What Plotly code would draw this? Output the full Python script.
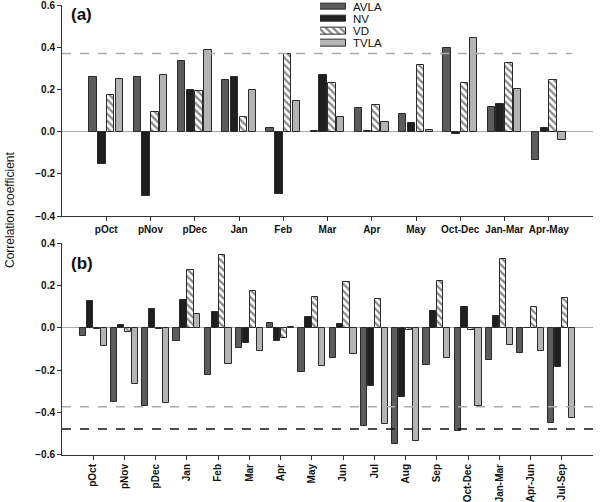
import plotly.graph_objects as go

cats_a = ["pOct", "pNov", "pDec", "Jan", "Feb", "Mar", "Apr", "May", "Oct-Dec", "Jan-Mar", "Apr-May"]
avla_a = [0.26, 0.26, 0.336, 0.246, 0.019, 0.005, 0.111, 0.082, 0.397, 0.119, -0.135]
nv_a = [-0.155, -0.304, 0.195, 0.26, -0.296, 0.267, 0.003, 0.042, -0.01, 0.133, 0.017]
vd_a = [0.174, 0.091, 0.192, 0.069, 0.37, 0.232, 0.127, 0.314, 0.231, 0.326, 0.243]
tvla_a = [0.248, 0.268, 0.386, 0.195, 0.146, 0.071, 0.045, 0.006, 0.445, 0.2, -0.041]

cats_b = ["pOct", "pNov", "pDec", "Jan", "Feb", "Mar", "Apr", "May", "Jun", "Jul", "Aug", "Sep",
          "Oct-Dec", "Jan-Mar", "Apr-Jun", "Jul-Sep"]
avla_b = [-0.039, -0.35, -0.367, -0.063, -0.223, -0.097, 0.022, -0.21, -0.141, -0.461, -0.547, -0.177,
          -0.489, -0.151, -0.119, -0.45]
nv_b = [0.127, 0.013, 0.091, 0.13, 0.075, -0.074, -0.063, 0.05, 0.019, -0.273, -0.326, 0.077,
        0.099, 0.056, 0.0, -0.187]
vd_b = [-0.005, -0.02, -0.005, 0.271, 0.345, 0.173, -0.047, 0.143, 0.218, 0.136, -0.01, 0.223,
        -0.01, 0.326, 0.1, 0.14]
tvla_b = [-0.086, -0.267, -0.353, 0.063, -0.169, -0.11, 0.003, -0.18, -0.125, -0.455, -0.532, -0.143,
          -0.369, -0.082, -0.11, -0.427]

sig_a = 0.37
sig_b1 = -0.372
sig_b2 = -0.478

names = ["AVLA", "NV", "VD", "TVLA"]
colors = ["#5c5c5c", "#1f1f1f", "#ffffff", "#b4b4b4"]

W, H = 600, 502
fig = go.Figure()


def marker_for(i):
    marker = dict(color=colors[i], line=dict(color="#2a2a2a", width=1))
    if names[i] == "VD":
        marker["pattern"] = dict(shape="\\", fgcolor="#111111", bgcolor="#ffffff", size=5, solidity=0.45)
    return marker


def add_panel(cats, series, xa, ya, width, pitch):
    start = -(3 * pitch + width) / 2
    for i, vals in enumerate(series):
        fig.add_trace(go.Bar(
            x=cats, y=vals, name=names[i], marker=marker_for(i), width=width,
            offset=start + i * pitch, xaxis=xa, yaxis=ya, showlegend=False))


add_panel(cats_a, [avla_a, nv_a, vd_a, tvla_a], "x", "y", 0.168, 0.2)
add_panel(cats_b, [avla_b, nv_b, vd_b, tvla_b], "x2", "y2", 0.2, 0.222)

# legend drawn as a tiny horizontal bar chart
for i, nm in enumerate(names):
    fig.add_trace(go.Bar(
        x=[1], y=[nm], orientation="h", marker=marker_for(i), width=0.55,
        xaxis="x3", yaxis="y3", showlegend=False, hoverinfo="skip"))

xdom = [62 / W, 593 / W]
ydom_a = [1 - 216 / H, 1 - 5 / H]
ydom_b = [1 - 455 / H, 1 - 243 / H]

tickfont = dict(family="Liberation Sans", size=10, color="#111", weight="bold")
axline = dict(showline=True, linecolor="#333", linewidth=1, ticks="outside", ticklen=4,
              tickcolor="#333", showgrid=False, tickfont=tickfont, automargin=False,
              ticklabeloverflow="allow")

leg_top, leg_pitch = 0.65, 12.1
fig.update_layout(
    width=W, height=H, barmode="overlay",
    plot_bgcolor="white", paper_bgcolor="white",
    margin=dict(l=0, r=0, t=0, b=0),
    font=dict(family="Liberation Sans", color="#111"),
    showlegend=False,
    xaxis=dict(domain=xdom, anchor="y", type="category", range=[-1, 11], **axline),
    yaxis=dict(domain=ydom_a, anchor="x", range=[-0.4, 0.6001], tickvals=[-0.4, -0.2, 0.0, 0.2, 0.4, 0.6],
               tickformat=".1f", zeroline=True, zerolinecolor="#aaaaaa", zerolinewidth=1, **axline),
    xaxis2=dict(domain=xdom, anchor="y2", type="category", range=[-1, 16], tickangle=-90, **axline),
    yaxis2=dict(domain=ydom_b, anchor="x2", range=[-0.6001, 0.4001], tickvals=[-0.6, -0.4, -0.2, 0.0, 0.2, 0.4],
                tickformat=".1f", zeroline=True, zerolinecolor="#aaaaaa", zerolinewidth=1, **axline),
    xaxis3=dict(domain=[320 / W, 346 / W], anchor="y3", range=[0, 1], visible=False, fixedrange=True),
    yaxis3=dict(domain=[1 - (leg_top + 4 * leg_pitch) / H, 1 - leg_top / H], anchor="x3",
                type="category", categoryorder="array", categoryarray=names,
                range=[3.5, -0.5], visible=False, fixedrange=True),
    bargap=0,
)

for i, nm in enumerate(names):
    fig.add_annotation(text=nm, xref="paper", yref="paper", x=351 / W,
                       y=1 - (leg_top + (i + 0.5) * leg_pitch) / H,
                       xanchor="left", yanchor="middle", showarrow=False,
                       font=dict(family="Liberation Sans", size=11.5, color="#111"))

fig.add_shape(type="line", xref="x domain", yref="y", x0=0, x1=0.96, y0=sig_a, y1=sig_a,
              line=dict(color="#aaaaaa", width=1.5, dash="dash"))
fig.add_shape(type="line", xref="x2 domain", yref="y2", x0=0, x1=1, y0=sig_b1, y1=sig_b1,
              line=dict(color="#aaaaaa", width=1.5, dash="dash"))
fig.add_shape(type="line", xref="x2 domain", yref="y2", x0=0, x1=1, y0=sig_b2, y1=sig_b2,
              line=dict(color="#111111", width=1.5, dash="dash"))

fig.add_annotation(text="(a)", xref="paper", yref="paper", x=69 / W, y=1 - 15 / H,
                   xanchor="left", yanchor="middle", showarrow=False,
                   font=dict(family="Liberation Sans", size=17, color="#111", weight="bold"))
fig.add_annotation(text="(b)", xref="paper", yref="paper", x=69 / W, y=1 - 263 / H,
                   xanchor="left", yanchor="middle", showarrow=False,
                   font=dict(family="Liberation Sans", size=17, color="#111", weight="bold"))
fig.add_annotation(text="Correlation coefficient", xref="paper", yref="paper", x=10 / W, y=1 - 210 / H,
                   xanchor="center", yanchor="middle", showarrow=False, textangle=-90,
                   font=dict(family="Liberation Sans", size=12, color="#111"))

fig.write_html("out.html", config={"displayModeBar": False},
               post_script="document.body.style.margin='0';document.body.style.overflow='hidden';")
